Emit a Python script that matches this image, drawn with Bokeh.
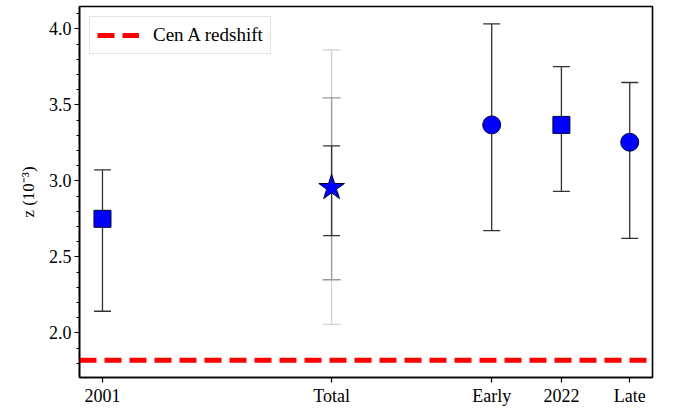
from bokeh.plotting import figure
from bokeh.models import (ColumnDataSource, Range1d, Whisker, TeeHead, FixedTicker,
                          SingleIntervalTicker, Legend, LegendItem, PrintfTickFormatter)
from bokeh.embed import file_html
from bokeh.resources import INLINE

# ---- data ----
labels = ["2001", "Total", "Early", "2022", "Late"]
x_pos = [0.0, 3.32, 5.64, 6.65, 7.64]
z_val = [2.75, 2.955, 3.368, 3.368, 3.254]
z_lo = [2.142, 2.64, 2.673, 2.93, 2.622]
z_hi = [3.072, 3.23, 4.033, 3.752, 3.647]
marker_of = {"2001": "square", "Total": "star", "Early": "circle", "2022": "square", "Late": "circle"}

# extra (wider) error ranges for Total
total_lo_2 = [2.349]
total_hi_2 = [3.546]
total_lo_3 = [2.055]
total_hi_3 = [3.862]

cen_a_z = 1.82

# ---- figure ----
x_start, x_end = -0.333, 7.97
p = figure(width=673, height=414, output_backend="svg", toolbar_location=None,
           x_range=Range1d(x_start, x_end), y_range=Range1d(1.706, 4.147),
           min_border_left=79, min_border_right=21, min_border_top=6, min_border_bottom=37)
p.background_fill_color = "white"
p.border_fill_color = "white"
p.grid.visible = False
p.outline_line_color = "black"
p.outline_line_width = 1.6

FONT = "Liberation Serif"

# y axis
p.yaxis.ticker = SingleIntervalTicker(interval=0.5, num_minor_ticks=5)
p.yaxis.formatter = PrintfTickFormatter(format="%.1f")
p.yaxis.axis_label = "z (10⁻³)"
p.yaxis.axis_label_text_font = FONT
p.yaxis.axis_label_text_font_style = "normal"
p.yaxis.axis_label_text_font_size = "17px"
p.yaxis.axis_label_text_color = "black"
p.yaxis.axis_label_standoff = 8

# x axis
p.xaxis.ticker = FixedTicker(ticks=x_pos)
p.xaxis.major_label_overrides = {x: l for x, l in zip(x_pos, labels)}
p.xaxis.minor_tick_line_color = None

for ax in (p.xaxis, p.yaxis):
    ax.axis_line_color = "black"
    ax.axis_line_width = 1.6
    ax.major_tick_line_color = "black"
    ax.major_tick_line_width = 1.2
    ax.major_tick_out = 5
    ax.major_tick_in = 0
    ax.minor_tick_out = 3
    ax.minor_tick_in = 0
    ax.minor_tick_line_width = 1
    ax.major_label_text_font = FONT
    ax.major_label_text_font_size = "18px"
    ax.major_label_text_color = "black"
    ax.major_label_standoff = 3

# Cen A redshift line
cen_line = p.line(x=[x_start, x_end], y=[cen_a_z, cen_a_z], line_color="red",
                  line_width=5, line_dash="17 8")

# wider Total error bars (drawn behind)
src3 = ColumnDataSource(dict(x=[x_pos[1]], lo=total_lo_3, hi=total_hi_3))
src2 = ColumnDataSource(dict(x=[x_pos[1]], lo=total_lo_2, hi=total_hi_2))
for s, col in ((src3, "#d2d2d2"), (src2, "#9a9a9a")):
    w = Whisker(source=s, base="x", lower="lo", upper="hi", dimension="height",
                line_color=col, line_width=1.3,
                upper_head=TeeHead(size=18, line_color=col, line_width=1.3),
                lower_head=TeeHead(size=18, line_color=col, line_width=1.3))
    p.add_layout(w)

src = ColumnDataSource(dict(x=x_pos, z=z_val, lo=z_lo, hi=z_hi))
ecol = "#333333"
wk = Whisker(source=src, base="x", lower="lo", upper="hi", dimension="height",
             line_color=ecol, line_width=1.3,
             upper_head=TeeHead(size=17, line_color=ecol, line_width=1.3),
             lower_head=TeeHead(size=17, line_color=ecol, line_width=1.3))
p.add_layout(wk)

size_of = {"square": 17, "circle": 18, "star": 27}
for mk, sz in size_of.items():
    idx = [i for i, l in enumerate(labels) if marker_of[l] == mk]
    s = ColumnDataSource(dict(x=[x_pos[i] for i in idx], z=[z_val[i] for i in idx]))
    p.scatter("x", "z", source=s, marker=mk, size=sz, fill_color="#0000ff",
              line_color="#000033", line_width=1)

legend = Legend(items=[LegendItem(label="Cen A redshift", renderers=[cen_line])],
                location="top_left")
legend.label_text_font = FONT
legend.label_text_font_size = "19px"
legend.label_text_color = "black"
legend.glyph_width = 42
legend.glyph_height = 20
legend.label_standoff = 14
legend.margin = 10
legend.padding = 7
legend.border_line_color = "#cccccc"
legend.border_line_width = 1
legend.background_fill_alpha = 0.8
p.add_layout(legend)

open("out.html", "w").write(file_html(p, INLINE))
